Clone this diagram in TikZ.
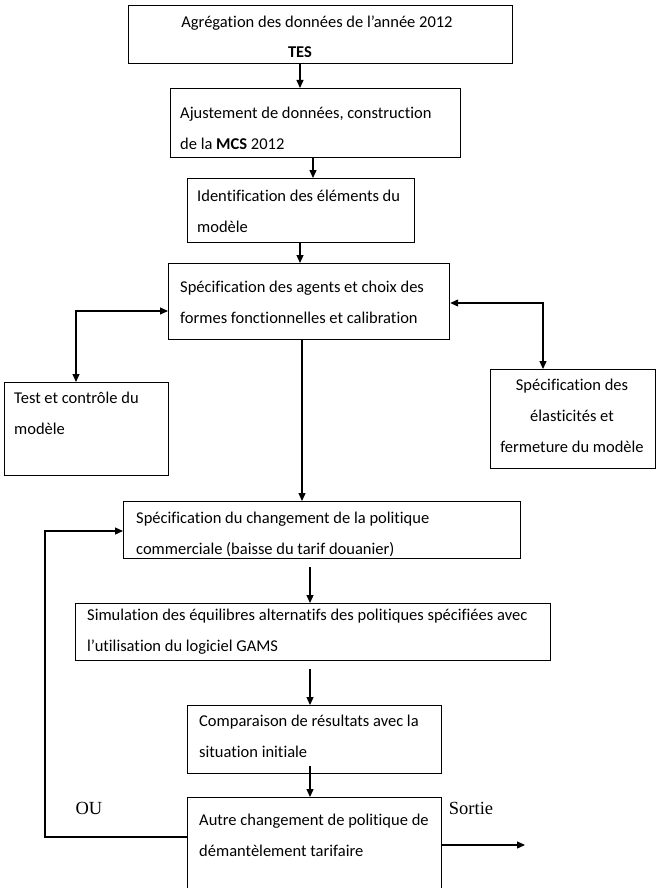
\documentclass[tikz,border=0pt]{standalone}
\usepackage{fontspec}
\setmainfont{Carlito}[Ligatures={NoCommon}]
\newfontfamily\timesf{Liberation Serif}
\usetikzlibrary{arrows.meta,calc}
\begin{document}
\begin{tikzpicture}[x=1pt,y=-1pt,
 box/.style={draw,line width=1.2pt,inner sep=0pt,anchor=north west},
 txt/.style={anchor=west,align=left,inner sep=0pt,font=\fontsize{16.5}{31}\selectfont},
 ctxt/.style={anchor=center,align=center,inner sep=0pt,font=\fontsize{16.5}{31}\selectfont},
 lbl/.style={inner sep=0pt,font=\timesf\fontsize{18.5}{20}\selectfont},
 ln/.style={line width=1.2pt},
 arr/.style={line width=1.2pt,-{Triangle[length=8pt,width=7pt]}},
 dbl/.style={line width=1.2pt,{Triangle[length=8pt,width=7pt]}-{Triangle[length=8pt,width=7pt]}}]
\useasboundingbox (0,0) rectangle (658,888);
\fill[white] (0,0) rectangle (658,888);

% boxes
\node[box,minimum width=384pt,minimum height=58pt] (b1) at (128,5) {};
\node[box,minimum width=290pt,minimum height=69pt] (b2) at (170,88) {};
\node[box,minimum width=227pt,minimum height=64pt] (b3) at (187,178) {};
\node[box,minimum width=281pt,minimum height=76pt] (b4) at (168,263) {};
\node[box,minimum width=164pt,minimum height=93pt] (bl) at (4,382) {};
\node[box,minimum width=165pt,minimum height=99pt] (br) at (490,369) {};
\node[box,minimum width=397pt,minimum height=57pt] (b5) at (123,501) {};
\node[box,minimum width=475pt,minimum height=57pt] (b6) at (75,603) {};
\node[box,minimum width=254pt,minimum height=68pt] (b7) at (187,705) {};
\node[box,minimum width=254pt,minimum height=100pt] (b8) at (187,797) {};

% texts
\node[ctxt] (t1a) at (317,23) {Agrégation des données de l’année 2012};
\node[ctxt] (t1b) at (300,52) {\textbf{TES}};
\node[txt] (t2) at (180,128) {Ajustement de données, construction\\de la \textbf{MCS} 2012};
\node[txt] (t3) at (197,211) {Identification des éléments du\\modèle};
\node[txt] (t4) at (180,302) {Spécification des agents et choix des\\formes fonctionnelles et calibration};
\node[txt] (tl) at (14,413) {Test et contrôle du\\modèle};
\node[ctxt] (tr) at (572,416) {Spécification des\\élasticités et\\fermeture du modèle};
\node[txt] (t5) at (136,534) {Spécification du changement de la politique\\commerciale (baisse du tarif douanier)};
\node[txt] (t6) at (87,632) {Simulation des équilibres alternatifs des politiques spécifiées avec\\l’utilisation du logiciel GAMS};
\node[txt] (t7) at (199,736) {Comparaison de résultats avec la\\situation initiale};
\node[txt] (t8) at (199,835) {Autre changement de politique de\\démantèlement tarifaire};
\node[lbl] (ou) at (89,808) {OU};
\node[lbl] (so) at (471,808) {Sortie};

% helper coordinates
\coordinate (c300) at (300,0);
\coordinate (c313) at (313,0);
\coordinate (c302) at (302,0);
\coordinate (c310) at (310,0);
\coordinate (pL) at (76,311);
\coordinate (pR) at (543,303);
\coordinate (pO) at (45,837);
\coordinate (pT) at (45,531);
\coordinate (pS) at (525,845);

% connectors
\draw[arr] (b1.south -| c300) -- (b2.north -| c300);
\draw[arr] (b2.south -| c313) -- (b3.north -| c313);
\draw[arr] (b3.south -| c300) -- (b4.north -| c300);
\draw[dbl] (b4.west |- pL) -| (bl.north -| pL);
\draw[dbl] (b4.east |- pR) -| (br.north -| pR);
\draw[arr] (b4.south -| c302) -- (b5.north -| c302);
\draw[arr] ($(b5.south -| c310)+(0,8)$) -- (b6.north -| c310);
\draw[arr] ($(b6.south -| c310)+(0,8)$) -- (b7.north -| c310);
\draw[arr] ($(b7.south -| c310)+(0,-8)$) -- (b8.north -| c310);
\draw[arr] (b8.west |- pO) -- (pO) -- (pT) -- (b5.west |- pT);
\draw[arr] (b8.east |- pS) -- (pS);
\end{tikzpicture}
\end{document}
